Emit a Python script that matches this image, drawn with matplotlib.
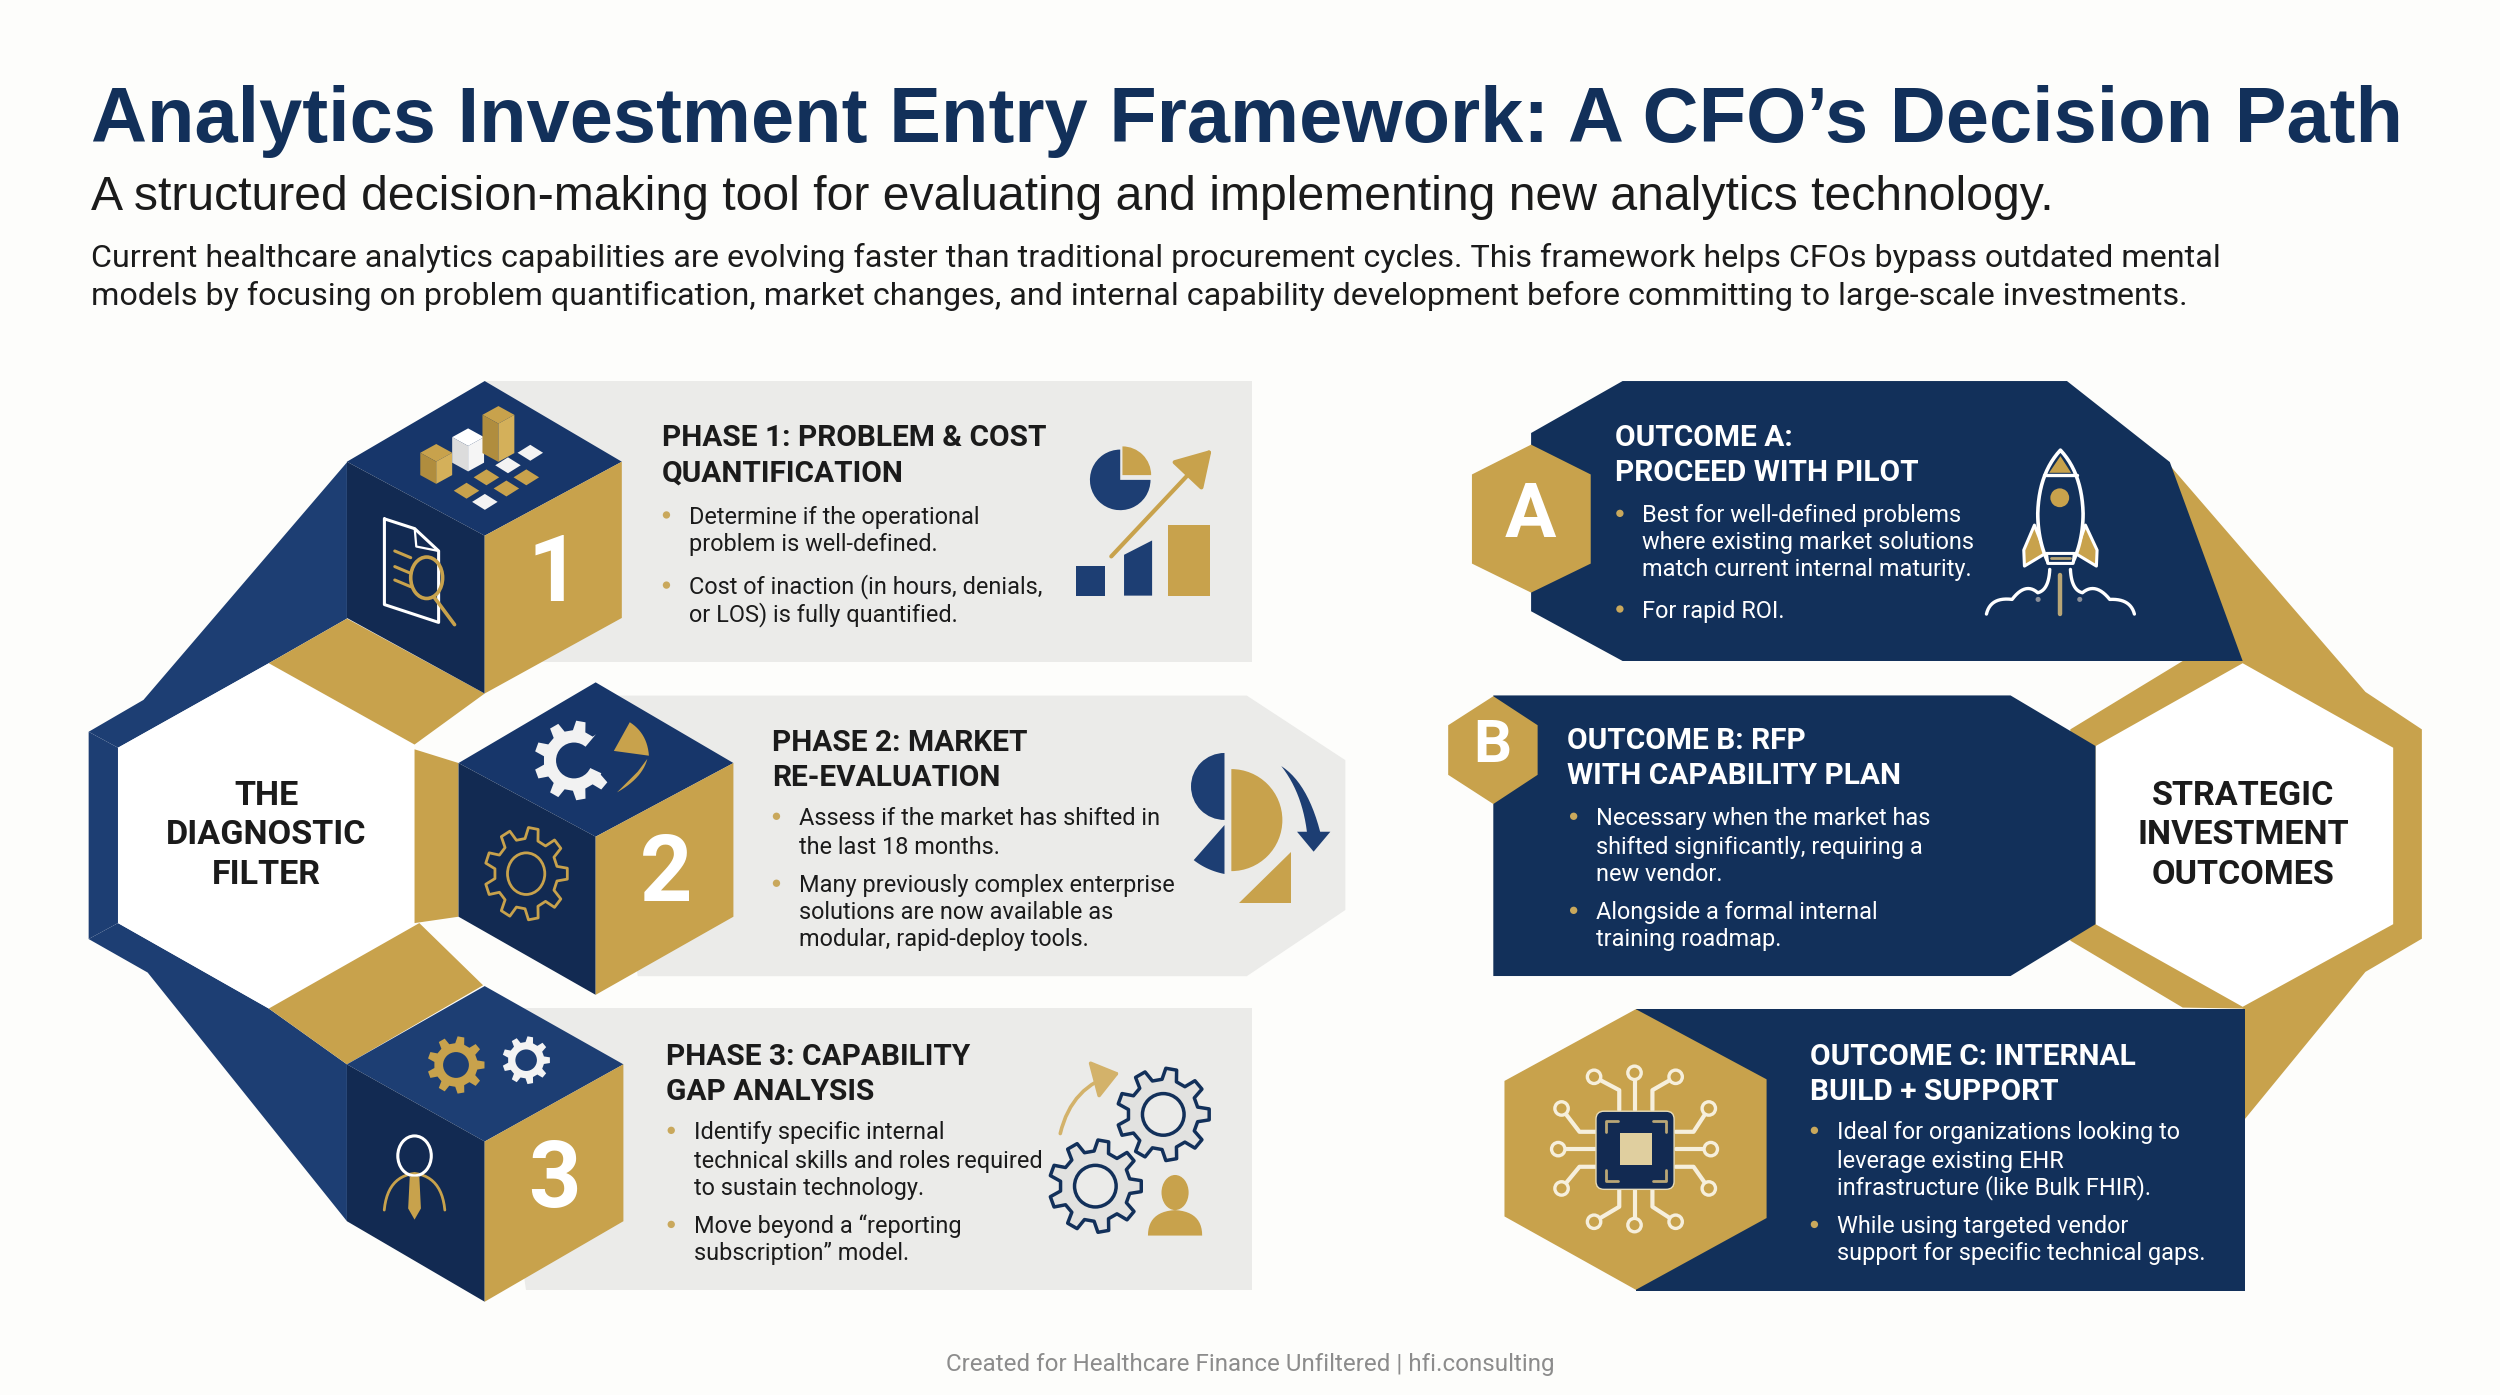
import numpy as np
import matplotlib
matplotlib.use("Agg")
import matplotlib.pyplot as plt
from matplotlib.patches import Polygon, Circle, Wedge, Rectangle, FancyBboxPatch, FancyArrowPatch, Ellipse

NAVY = "#12305a"
NAVY_LT = "#1d3e73"
NAVY_TOP = "#17366a"
NAVY_DK = "#122a52"
GOLD = "#c8a24c"
PANEL = "#ebebe9"
BG = "#fdfdfb"
INK = "#1b1b1b"
CREAM = "#f6efdc"

title = "Analytics Investment Entry Framework: A CFO\u2019s Decision Path"
subtitle = "A structured decision-making tool for evaluating and implementing new analytics technology."
intro = ["Current healthcare analytics capabilities are evolving faster than traditional procurement cycles. This framework helps CFOs bypass outdated mental",
         "models by focusing on problem quantification, market changes, and internal capability development before committing to large-scale investments."]
footer = "Created for Healthcare Finance Unfiltered | hfi.consulting"

left_hub = ["THE", "DIAGNOSTIC", "FILTER"]
right_hub = ["STRATEGIC", "INVESTMENT", "OUTCOMES"]

phase1_head = ["PHASE 1: PROBLEM & COST", "QUANTIFICATION"]
phase1_bullets = [["Determine if the operational", "problem is well-defined."],
                  ["Cost of inaction (in hours, denials,", "or LOS) is fully quantified."]]
phase2_head = ["PHASE 2: MARKET", "RE-EVALUATION"]
phase2_bullets = [["Assess if the market has shifted in", "the last 18 months."],
                  ["Many previously complex enterprise", "solutions are now available as", "modular, rapid-deploy tools."]]
phase3_head = ["PHASE 3: CAPABILITY", "GAP ANALYSIS"]
phase3_bullets = [["Identify specific internal", "technical skills and roles required", "to sustain technology."],
                  ["Move beyond a \u201creporting", "subscription\u201d model."]]
outa_head = ["OUTCOME A:", "PROCEED WITH PILOT"]
outa_bullets = [["Best for well-defined problems", "where existing market solutions", "match current internal maturity."],
                ["For rapid ROI."]]
outb_head = ["OUTCOME B: RFP", "WITH CAPABILITY PLAN"]
outb_bullets = [["Necessary when the market has", "shifted significantly, requiring a", "new vendor."],
                ["Alongside a formal internal", "training roadmap."]]
outc_head = ["OUTCOME C: INTERNAL", "BUILD + SUPPORT"]
outc_bullets = [["Ideal for organizations looking to", "leverage existing EHR", "infrastructure (like Bulk FHIR)."],
                ["While using targeted vendor", "support for specific technical gaps."]]

fig = plt.figure(figsize=(25, 13.95), dpi=100, facecolor=BG)
ax = fig.add_axes([0, 0, 1, 1])
ax.set_xlim(0, 1568)
ax.set_ylim(875, 0)
ax.axis("off")


def poly(pts, fc, ec="none", lw=0, z=2):
    ax.add_patch(Polygon(pts, closed=True, fc=fc, ec=ec, lw=lw, zorder=z, joinstyle="round"))


def line(pts, color, lw=2, z=6):
    p = np.array(pts)
    ax.plot(p[:, 0], p[:, 1], color=color, lw=lw, zorder=z, solid_capstyle="round", solid_joinstyle="round")


def quad(p0, p1, p2, n=14):
    t = np.linspace(0, 1, n)[:, None]
    p0, p1, p2 = np.array(p0), np.array(p1), np.array(p2)
    return [tuple(q) for q in (1 - t) ** 2 * p0 + 2 * t * (1 - t) * p1 + t ** 2 * p2]


def gear(cx, cy, r, color, hole=None, teeth=8, outline=None, lw=2, z=6, ry=None):
    ry = ry or r
    pts = []
    for i in range(teeth):
        a = 2 * np.pi * i / teeth
        w = 2 * np.pi / teeth
        for da, rr in [(-.30, .76), (-.17, 1), (.17, 1), (.30, .76)]:
            pts.append((cx + r * rr * np.cos(a + da * w), cy + ry * rr * np.sin(a + da * w)))
    if outline:
        poly(pts, color, ec=outline, lw=lw, z=z)
    else:
        poly(pts, color, z=z)
    if hole:
        ax.add_patch(Ellipse((cx, cy), r * .9, ry * .9, fc=hole, ec=outline or "none", lw=lw, zorder=z + .1))


def cube(top, right, center, left, left_low, bottom, right_low, top_c):
    poly([top, right, center, left], top_c, z=4)
    poly([left, center, bottom, left_low], NAVY_DK, z=4)
    poly([center, right, right_low, bottom], GOLD, z=4)


def block(x, yc_head, x_b, x_dot, head, bullets, yc_bul, color, dot, head_size=21.5, body_size=16.9):
    for s, y in zip(head, yc_head):
        ax.text(x, y + 8, s, family="Roboto", weight="bold", fontsize=head_size, color=color, va="baseline", zorder=9)
    i = 0
    for b in bullets:
        ax.add_patch(Circle((x_dot, yc_bul[i]), 2.3, fc=dot, ec="none", zorder=9))
        for s in b:
            ax.text(x_b, yc_bul[i] + 5.5, s, family="Roboto", fontsize=body_size, color=color, va="baseline", zorder=9)
            i += 1


# header
ax.text(57, 89, title, family="Liberation Sans", weight="bold", fontsize=55.9, color=NAVY, va="baseline")
ax.text(57, 131.7, subtitle, family="Liberation Sans", fontsize=34.7, color=INK, va="baseline")
for s, y in zip(intro, [167.5, 191]):
    ax.text(57, y, s, family="Roboto", fontsize=23.2, color=INK, va="baseline")
ax.text(784, 860, footer, family="Roboto", fontsize=17.4, color="#8c8c8c", ha="center", va="baseline")

# left hub frame
poly([(55.6, 459), (90, 439), (217.6, 290), (217.6, 388), (168.6, 416), (74, 469)], NAVY_LT, z=1)
poly([(55.6, 459), (74, 469), (74, 579), (55.6, 589)], NAVY_LT, z=1)
poly([(55.6, 589), (74, 579), (168.6, 632.6), (217.6, 667.6), (217.6, 766), (92.6, 610)], NAVY_LT, z=1)
poly([(74, 469), (168.6, 416), (260, 467), (260, 581), (168.6, 632.6), (74, 579)], "white", z=2)
poly([(217.6, 388), (304, 435), (260, 467), (168.6, 416)], GOLD, z=3)
poly([(260, 470), (287.6, 478.6), (287.6, 575), (260, 579)], GOLD, z=3)
poly([(168.6, 632.6), (263, 579), (303, 618), (217.6, 667.6)], GOLD, z=3)

# panels
poly([(304, 239), (785, 239), (785, 415.5), (330, 415.5)], PANEL, z=2)
poly([(373, 436.3), (782, 436.3), (843.8, 476.8), (843.8, 570.8), (782, 612.3), (400, 612.3)], PANEL, z=2)
poly([(304, 632.5), (785, 632.5), (785, 809), (330, 809)], PANEL, z=2)

cube((304, 239), (390, 289.6), (304, 336), (217.6, 289.6), (217.6, 387.6), (304, 435), (390, 387.6), NAVY_TOP)
cube((373.6, 428), (460, 478.6), (373.6, 524.8), (287.6, 478.6), (287.6, 575), (373.6, 624), (460, 575), NAVY_TOP)
cube((304, 618.5), (391, 667.6), (304, 716), (217.6, 667.6), (217.6, 766), (304, 816.5), (391, 766), NAVY_LT)

for s, x, y in [("1", 347, 361), ("2", 418, 549), ("3", 348, 741)]:
    ax.text(x, y, s, family="Roboto", weight="bold", fontsize=66, color="white", ha="center", va="center", zorder=7)

for s, y in zip(left_hub, [499, 524, 549]):
    ax.text(167, y, s, family="Roboto", weight="bold", fontsize=24.6, color=INK, ha="center", va="center", zorder=9)


def z1(x, y):
    return (37.6 + x * .5, 219.6 + y * .28)


def z2(x, y):
    return (37.6 + x * .5, 564.6 + y * .209)


def z3(x, y):
    return (890.8 + x * .416, 219.6 + y * .26)


def z4(x, y):
    return (890.8 + x * .416, 596 + y * .209)


def zr(x, y):
    return (1229.6 + x * .209, 269.8 + y * .209)


def diamond(c, w, h, color):
    poly([(c[0], c[1] - h), (c[0] + w, c[1]), (c[0], c[1] + h), (c[0] - w, c[1])], color, z=6)


def box(c, w, h, tall, top, side1, side2):
    x, y = c
    poly([(x, y - h), (x + w, y), (x, y + h), (x - w, y)], top, z=6)
    poly([(x - w, y), (x, y + h), (x, y + h + tall), (x - w, y + tall)], side1, z=6)
    poly([(x + w, y), (x, y + h), (x, y + h + tall), (x + w, y + tall)], side2, z=6)


# cube 1 icons
for p in [(535, 285), (585, 285), (510, 315), (560, 310)]:
    diamond(z1(*p), 8, 5, GOLD)
for p in [(590, 230), (562, 258), (533, 340)]:
    diamond(z1(*p), 8, 5, "#f3f3f3")
box(z1(472, 230), 10, 5.5, 14, GOLD, "#b08d3e", "#d4b05a")
box(z1(512, 195), 10, 5.5, 16, "white", "#dcdcdc", "#f5f5f5")
box(z1(550, 145), 10, 5.5, 24, GOLD, "#b08d3e", "#d4b05a")
line([z1(407, 378), z1(445, 400), z1(475, 450), z1(475, 610), z1(407, 570), z1(407, 378)], "white", 2.2)
line([z1(445, 400), z1(447, 440), z1(475, 450)], "white", 1.6)
for y in [450, 485, 515]:
    line([z1(420, y), z1(440, y + 15)], GOLD, 2.2)
ax.add_patch(Ellipse(z1(460, 510), 20, 26, fc="none", ec=GOLD, lw=2.6, zorder=7))
line([z1(470, 555), z1(495, 615)], GOLD, 2.6)

# panel 1 icon
ax.add_patch(Wedge((702.6, 301), 19, 0, 270, fc=NAVY_LT, ec="none", zorder=5))
ax.add_patch(Wedge((704, 298), 18, 270, 360, fc=GOLD, ec="none", zorder=5))
ax.add_patch(Rectangle((675, 355), 18, 18.6, fc=NAVY_LT, zorder=5))
ax.add_patch(Polygon([(705, 348), (722.6, 339), (722.6, 373.6), (705, 373.6)], fc=NAVY_LT, zorder=5))
ax.add_patch(Rectangle((732.6, 329), 26, 44.6, fc=GOLD, zorder=5))
ax.add_patch(FancyArrowPatch((697, 349), (760, 282), arrowstyle="-|>,head_length=10,head_width=6", mutation_scale=2.2, color=GOLD, lw=3, zorder=6, shrinkA=0, shrinkB=0))

# cube 2 icons
gear(360, 477, 25, "#f2f2f2", hole=NAVY_TOP, teeth=9, ry=25)
ax.add_patch(Wedge((360, 477), 34, -50, 25, fc=NAVY_TOP, ec="none", zorder=6.5))
poly(quad((395, 453), (406, 460), (407, 474)) + [(385, 471)], GOLD, z=7)
poly(quad((406, 476), (403, 488), (387, 497)) + [(400, 484)], GOLD, z=7)
gear(330, 548, 26, NAVY_DK, hole=NAVY_DK, teeth=9, outline=GOLD, lw=2, ry=29)

# panel 2 icon
ax.add_patch(Wedge((768, 493.3), 21, 90, 270, fc=NAVY_LT, ec="none", zorder=5))
poly([(768, 517.5), (748.7, 539.5)] + quad((748.7, 539.5), (757, 546), (768, 548.2)), NAVY_LT, z=5)
ax.add_patch(Wedge((772.3, 514.4), 32, -90, 90, fc=GOLD, ec="none", zorder=5))
poly([(809.7, 534.6), (809.7, 566.2), (776.9, 566.2)], GOLD, z=5)
poly(quad((803.6, 480.5), (820, 491), (828, 521.7)) + [(834.4, 521.7), (823.9, 534.2), (813.5, 521.7), (819.7, 521.7)] + quad((819.7, 521.7), (816.6, 497), (803.6, 480.5)), NAVY_LT, z=6)

# cube 3 icons
gear(286, 668, 18, GOLD, hole=NAVY_LT, teeth=9)
gear(330, 665, 15, "#f3f3f3", hole=NAVY_LT, teeth=9)
ax.add_patch(Ellipse((260, 725), 21, 25, fc="none", ec="white", lw=2.2, zorder=7))
line(quad((241, 759), (243, 738), (260, 736)) + quad((260, 736), (277, 738), (279, 759)), GOLD, 2)
poly([(257, 738), (263, 738), (264, 758), (260, 765), (256, 758)], GOLD, z=7)

# panel 3 icon
gear(729.6, 699, 29, "#e2e2e0", hole=PANEL, teeth=9, outline=NAVY, lw=2.5)
gear(687, 744, 29, "#e2e2e0", hole=PANEL, teeth=9, outline=NAVY, lw=2.5)
ax.add_patch(FancyArrowPatch((665, 711), (702, 673), connectionstyle="arc3,rad=-0.3", arrowstyle="-|>,head_length=8,head_width=6", mutation_scale=2, color="#d3b26a", lw=2.6, zorder=6, shrinkA=0, shrinkB=0))
ax.add_patch(Ellipse((737, 748), 17, 22, fc=GOLD, zorder=6))
poly(quad((720, 775), (720, 760), (737, 759)) + quad((737, 759), (754, 760), (754, 775)), GOLD, z=6)

# right hub frame
poly([(1361, 292), (1483.6, 434), (1519, 457.5), (1519, 588.8), (1483.6, 609.6), (1406.6, 703.6), (1406.6, 632.6),
      (1369, 632), (1298.5, 590), (1298.5, 457.5), (1369, 414.6)], GOLD, z=1)
poly([(1314.3, 468), (1406.6, 416), (1501, 469), (1501, 579.7), (1406.6, 631.5), (1314.3, 579.7)], "white", z=2)

# outcome panels
poly([(1017.7, 239), (1296.4, 239), (1360.9, 289.8), (1406.6, 414.6), (1017.7, 414.6), (960.3, 383.4), (960.3, 271.6)], NAVY, z=3)
poly([(936.6, 436.2), (1261, 436.2), (1314.3, 467.9), (1314.3, 579.7), (1261, 612.2), (936.6, 612.2)], NAVY, z=3)
poly([(1026, 632.6), (1407.9, 632.6), (1407.9, 809.6), (1026, 809.6)], NAVY, z=3)

poly([(923.2, 297.6), (960.3, 278.9), (997.7, 297.6), (997.7, 353.5), (960.3, 371.7), (923.2, 353.5)], GOLD, z=4)
poly([(908.3, 454.9), (936.6, 436.7), (964.4, 454.9), (964.4, 486), (936.6, 504.3), (908.3, 486)], GOLD, z=4)
poly([(943.6, 678), (1026, 633), (1108, 677), (1108, 764), (1026, 809), (943.6, 763)], GOLD, z=4)

ax.text(960, 324, "A", family="Roboto", weight="bold", fontsize=55, color="white", ha="center", va="center", zorder=7)
ax.text(936, 468, "B", family="Roboto", weight="bold", fontsize=43, color="white", ha="center", va="center", zorder=7)

for s, y in zip(right_hub, [499, 524, 549]):
    ax.text(1407, y, s, family="Roboto", weight="bold", fontsize=24.6, color=INK, ha="center", va="center", zorder=9)

# rocket
left_side = quad(zr(300, 60), zr(235, 130), zr(232, 250)) + quad(zr(232, 250), zr(232, 330), zr(262, 395))
right_side = quad(zr(338, 395), zr(368, 330), zr(368, 250)) + quad(zr(368, 250), zr(365, 130), zr(300, 60))
poly(left_side + right_side, NAVY, ec="white", lw=2.6, z=6)
poly([zr(300, 78), zr(332, 128), zr(266, 128)], GOLD, z=7)
line([zr(250, 135), zr(350, 135)], "white", 2.4, z=7)
ax.add_patch(Circle(zr(298, 203), 5.9, fc=GOLD, ec="none", zorder=7))
poly([zr(222, 285), zr(190, 360), zr(192, 408), zr(255, 370)], GOLD, ec="white", lw=2.2, z=5)
poly([zr(375, 285), zr(410, 360), zr(408, 408), zr(345, 370)], GOLD, ec="white", lw=2.2, z=5)
poly([zr(258, 370), zr(342, 370), zr(338, 400), zr(262, 400)], NAVY, ec="white", lw=2.2, z=7)
line([zr(272, 384), zr(328, 384)], "#b9a676", 2, z=8)
line([zr(298, 435), zr(298, 552)], "#b9a676", 3.2)
line(quad(zr(268, 418), zr(265, 480), zr(232, 488)) + quad(zr(232, 488), zr(195, 455), zr(155, 508)) + quad(zr(155, 508), zr(90, 500), zr(78, 552)), "white", 2.4)
line(quad(zr(330, 418), zr(333, 480), zr(366, 488)) + quad(zr(366, 488), zr(405, 455), zr(448, 508)) + quad(zr(448, 508), zr(510, 505), zr(522, 552)), "white", 2.4)
for x in [233, 358]:
    ax.add_patch(Circle(zr(x, 508), 1.6, fc="#8a8f99", ec="none", zorder=7))

# chip
traces = [[(262, 380), (300, 420), (300, 480)], [(323, 368), (323, 480)], [(385, 380), (350, 420), (350, 480)],
          [(213, 475), (240, 545), (265, 545)], [(435, 475), (412, 545), (385, 545)],
          [(208, 597), (265, 597)], [(438, 597), (385, 597)],
          [(213, 715), (240, 650), (265, 650)], [(435, 715), (412, 650), (385, 650)],
          [(262, 815), (300, 770), (300, 720)], [(323, 825), (323, 720)], [(385, 815), (350, 770), (350, 720)]]
for t in traces:
    line([z4(*p) for p in t], CREAM, 3)
    ax.add_patch(Circle(z4(*t[0]), 4.2, fc=GOLD, ec=CREAM, lw=2.4, zorder=7))
ax.add_patch(FancyBboxPatch((1001, 697), 49, 49, boxstyle="round,pad=0,rounding_size=5", fc=NAVY_DK, ec="#e8dcb8", lw=1, zorder=7))
ax.add_patch(Rectangle((1016, 710.5), 20, 20.5, fc="#e0cf9f", zorder=8))
for x0, y0, dx, dy in [(1007, 703, 1, 1), (1045, 703, -1, 1), (1007, 741, 1, -1), (1045, 741, -1, -1)]:
    line([(x0, y0 + 7 * dy), (x0, y0), (x0 + 8 * dx, y0)], "#b9a676", 2, z=8)

# text blocks
block(415, [272, 294], 432, 418, phase1_head, phase1_bullets, [323, 340, 367, 384], INK, "#c9a85c")
block(484, [463, 485], 501, 487, phase2_head, phase2_bullets, [512, 530, 554, 571, 588], INK, "#c9a85c")
block(418, [660, 682], 435, 421, phase3_head, phase3_bullets, [709, 727, 744, 768, 785], INK, "#c9a85c")
block(1013, [272, 294], 1030, 1016, outa_head, outa_bullets, [322, 339, 356, 382], "white", "#c9a85c")
block(983, [462, 484], 1001, 987, outb_head, outb_bullets, [512, 530, 547, 571, 588], "white", "#c9a85c")
block(1135, [660, 682], 1152, 1138, outc_head, outc_bullets, [709, 727, 744, 768, 785], "white", "#c9a85c")

fig.savefig("out.png", dpi=100, facecolor=BG)
